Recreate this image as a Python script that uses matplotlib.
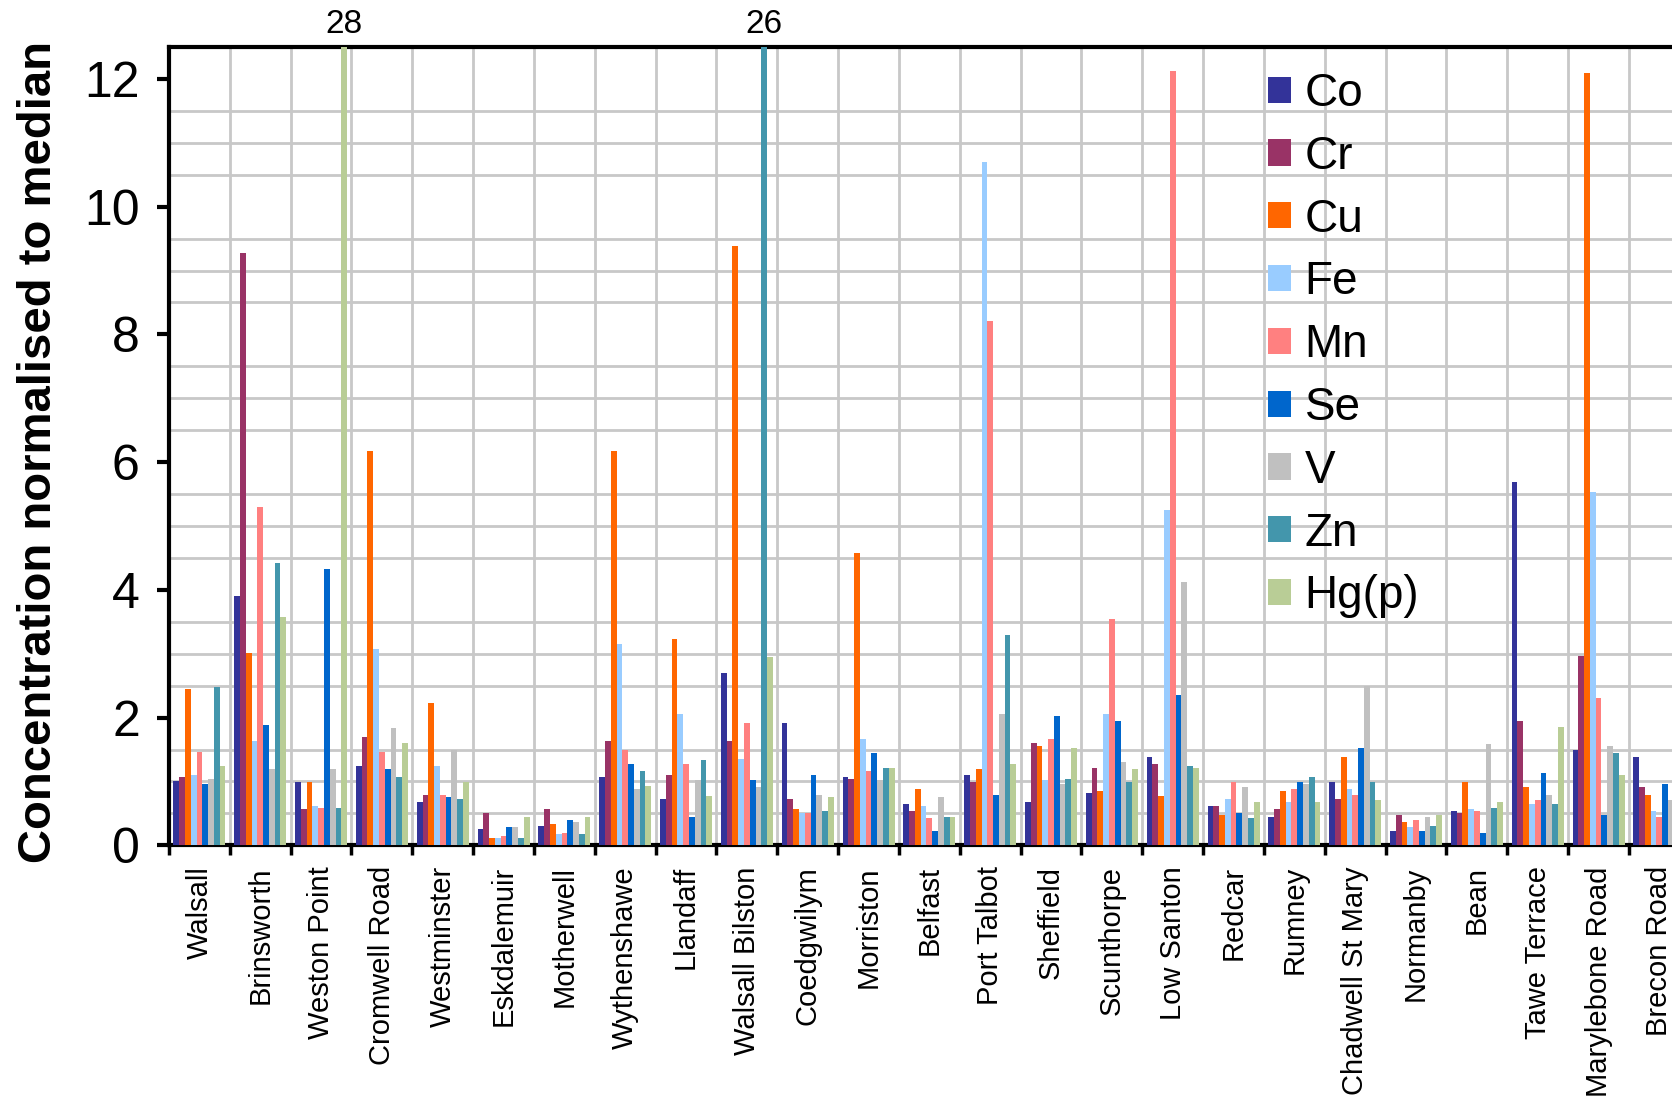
import numpy as np
import matplotlib
matplotlib.use("Agg")
import matplotlib.pyplot as plt
from matplotlib.patches import Patch

plt.rcParams['font.family'] = ['Liberation Sans', 'DejaVu Sans']

sites = ["Walsall", "Brinsworth", "Weston Point", "Cromwell Road", "Westminster",
         "Eskdalemuir", "Motherwell", "Wythenshawe", "Llandaff", "Walsall Bilston",
         "Coedgwilym", "Morriston", "Belfast", "Port Talbot", "Sheffield",
         "Scunthorpe", "Low Santon", "Redcar", "Rumney", "Chadwell St Mary",
         "Normanby", "Bean", "Tawe Terrace", "Marylebone Road", "Brecon Road"]

Co = [1.01, 3.91, 0.99, 1.24, 0.68, 0.26, 0.31, 1.07, 0.73, 2.70, 1.92, 1.07, 0.65,
      1.10, 0.68, 0.82, 1.38, 0.62, 0.45, 0.99, 0.23, 0.54, 5.69, 1.50, 1.38]
Cr = [1.07, 9.27, 0.57, 1.69, 0.79, 0.51, 0.57, 1.64, 1.10, 1.64, 0.73, 1.04, 0.54,
      0.99, 1.60, 1.21, 1.27, 0.62, 0.57, 0.73, 0.48, 0.51, 1.94, 2.96, 0.91]
Cu = [2.45, 3.01, 0.99, 6.18, 2.23, 0.12, 0.34, 6.18, 3.23, 9.38, 0.57, 4.58, 0.88,
      1.19, 1.55, 0.85, 0.77, 0.48, 0.85, 1.38, 0.37, 0.99, 0.91, 12.09, 0.79]
Fe = [1.10, 1.64, 0.62, 3.07, 1.24, 0.12, 0.17, 3.15, 2.06, 1.35, 0.51, 1.66, 0.62,
      10.70, 1.02, 2.05, 5.25, 0.73, 0.68, 0.88, 0.29, 0.57, 0.65, 5.53, 0.54]
Mn = [1.46, 5.29, 0.59, 1.46, 0.79, 0.15, 0.20, 1.50, 1.27, 1.92, 0.51, 1.16, 0.43,
      8.21, 1.66, 3.55, 12.12, 0.99, 0.88, 0.79, 0.40, 0.54, 0.71, 2.31, 0.45]
Se = [0.96, 1.89, 4.33, 1.19, 0.76, 0.29, 0.40, 1.27, 0.45, 1.02, 1.10, 1.44, 0.23,
      0.79, 2.03, 1.94, 2.36, 0.51, 0.99, 1.52, 0.23, 0.20, 1.13, 0.48, 0.96]
V = [1.04, 1.19, 1.19, 1.83, 1.50, 0.29, 0.37, 0.88, 1.02, 0.91, 0.79, 1.02, 0.76,
     2.05, 0.96, 1.30, 4.13, 0.91, 0.96, 2.49, 0.45, 1.58, 0.79, 1.55, 0.71]
Zn = [2.48, 4.42, 0.59, 1.07, 0.73, 0.12, 0.17, 1.16, 1.33, 26.0, 0.54, 1.21, 0.45,
      3.29, 1.04, 0.99, 1.24, 0.43, 1.07, 0.99, 0.31, 0.59, 0.65, 1.44, np.nan]
Hg = [1.24, 3.57, 28.0, 1.60, 0.99, 0.45, 0.45, 0.93, 0.77, 2.95, 0.76, 1.21, 0.45,
      1.27, 1.52, 1.19, 1.21, 0.68, 0.68, 0.71, 0.48, 0.68, 1.85, 1.10, np.nan]

series_names = ["Co", "Cr", "Cu", "Fe", "Mn", "Se", "V", "Zn", "Hg(p)"]
series_vals = [Co, Cr, Cu, Fe, Mn, Se, V, Zn, Hg]
colors = ["#333399", "#993366", "#FF6600", "#99CCFF", "#FF8080",
          "#0066CC", "#C0C0C0", "#4396AC", "#B9CD96"]

YMAX = 12.5

fig = plt.figure(figsize=(16.72, 11.01), dpi=100)
W, H = 1672, 1101
left, right_px, top_px, bot_px = 169, 169 + 25 * 60.83, 47, 845.3
ax = fig.add_axes([left / W, 1 - bot_px / H, (right_px - left) / W, (bot_px - top_px) / H])

n = len(series_vals)
bw = 0.095
idx = np.arange(len(sites))
for k, (vals, c) in enumerate(zip(series_vals, colors)):
    ax.bar(idx + (k - (n - 1) / 2) * bw, vals, width=bw, color=c, linewidth=0, zorder=3)

ax.set_xlim(-0.5, len(sites) - 0.5)
ax.set_ylim(0, YMAX)

# annotate clipped bars
for k, vals in enumerate(series_vals):
    for i, v in enumerate(vals):
        if np.isfinite(v) and v > YMAX:
            ax.annotate(f"{v:g}", xy=(i + (k - (n - 1) / 2) * bw, YMAX),
                        xytext=(0, 5), textcoords="offset points",
                        ha="center", va="bottom", fontsize=24, annotation_clip=False)

ax.set_yticks(np.arange(0, 13, 2))
ax.set_yticks(np.arange(0, YMAX + 0.01, 0.5), minor=True)
ax.set_xticks(idx)
ax.set_xticklabels(sites, rotation=90, va="top", ha="center")
ax.set_xticks(np.arange(-0.5, len(sites), 1), minor=True)

ax.grid(which="minor", axis="both", color="#c8c8c8", linewidth=2, zorder=0)
ax.set_axisbelow(True)

ax.tick_params(axis="y", which="major", labelsize=36, length=9, width=3, pad=12, direction="out")
ax.tick_params(axis="y", which="minor", length=0)
ax.tick_params(axis="x", which="major", labelsize=21, length=0, pad=15)
ax.tick_params(axis="x", which="minor", length=7, width=2.5, direction="out")

for s in ["left", "bottom", "top"]:
    ax.spines[s].set_linewidth(3)
    ax.spines[s].set_color("black")
ax.spines["right"].set_visible(False)

fig.text(39 / W, 1 - 452 / H, "Concentration normalised to median", rotation=90,
         ha="center", va="center", fontsize=34, fontweight="bold")

handles = [Patch(facecolor=c, edgecolor="none") for c in colors]
fig.legend(handles, series_names, loc="upper left", bbox_to_anchor=(1268 / W, 1 - 72 / H),
           frameon=False, fontsize=33, borderpad=0, borderaxespad=0,
           handlelength=0.5, handleheight=0.5, handletextpad=0.3, labelspacing=0.41)

fig.savefig("out.png", dpi=100)
